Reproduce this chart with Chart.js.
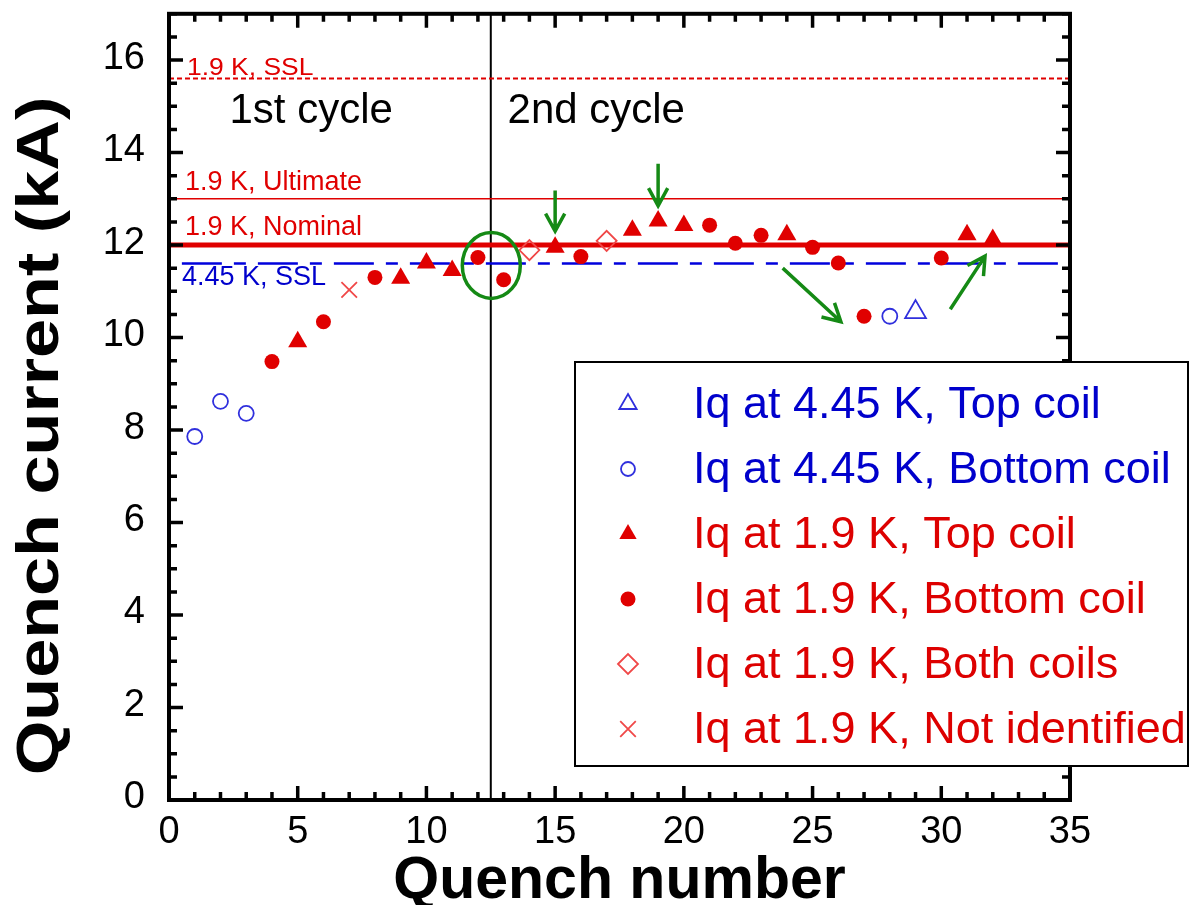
<!DOCTYPE html>
<html>
<head>
<meta charset="utf-8">
<script src="https://cdn.jsdelivr.net/npm/chart.js@4.4.0/dist/chart.umd.min.js"></script>
<style>
  body { margin: 0; background: #fff; }
  canvas { display: block; }
</style>
</head>
<body>
<canvas id="myChart" width="1190" height="905"></canvas>
<script>
var FONT = "'Liberation Sans', Arial, Helvetica, sans-serif";

// quench currents (kA) by quench number, grouped by marker kind
var blueTopX = [29];
var blueTopY = [10.55];
var blueBottomX = [1, 2, 3, 28];
var blueBottomY = [7.86, 8.62, 8.36, 10.46];
var redTopX = [5, 9, 10, 11, 15, 18, 19, 20, 24, 31, 32];
var redTopY = [9.91, 11.28, 11.61, 11.45, 11.95, 12.32, 12.52, 12.42, 12.22, 12.22, 12.12];
var redBottomX = [4, 6, 8, 12, 13, 16, 21, 22, 23, 25, 26, 27, 30];
var redBottomY = [9.48, 10.34, 11.3, 11.73, 11.25, 11.75, 12.43, 12.04, 12.21, 11.95, 11.61, 10.46, 11.72];
var redBothX = [14, 17];
var redBothY = [11.89, 12.09];
var redUnknownX = [7];
var redUnknownY = [11.03];

var seriesNames = [
  'Iq at 4.45 K, Top coil',
  'Iq at 4.45 K, Bottom coil',
  'Iq at 1.9 K, Top coil',
  'Iq at 1.9 K, Bottom coil',
  'Iq at 1.9 K, Both coils',
  'Iq at 1.9 K, Not identified',
];

// reference levels (kA)
var levelNames = ['1.9 K, SSL', '1.9 K, Ultimate', '1.9 K, Nominal', '4.45 K, SSL'];
var levelValues = [15.6, 13.0, 12.0, 11.6];
var cycleSplit = 12.5;
var cycleNames = ['1st cycle', '2nd cycle'];

var xTicks = [0, 5, 10, 15, 20, 25, 30, 35];
var yTicks = [0, 2, 4, 6, 8, 10, 12, 14, 16];
var yTitle = 'Quench current (kA)';

var RED = '#e00000';
var LIGHTRED = '#f04848';
var BLUE = '#3030dd';
var GREEN = '#158a15';

function pts(xs, ys) {
  return xs.map(function (x, i) {
    return { x: x, y: ys[i] };
  });
}

function levelLine(value, color, width, dash, from) {
  return {
    data: [{ x: from, y: value }, { x: 35, y: value }],
    showLine: true,
    borderColor: color,
    borderWidth: width,
    borderDash: dash,
    pointRadius: 0,
    pointHoverRadius: 0,
    order: 5,
  };
}

var markerSets = [
  { label: seriesNames[0], data: pts(blueTopX, blueTopY), pointStyle: 'triangle', pointRadius: 12, borderWidth: 1.8, borderColor: BLUE, backgroundColor: 'rgba(0,0,0,0)', textColor: '#0000cc', legendRadius: 10 },
  { label: seriesNames[1], data: pts(blueBottomX, blueBottomY), pointStyle: 'circle', pointRadius: 7.5, borderWidth: 1.8, borderColor: BLUE, backgroundColor: 'rgba(0,0,0,0)', textColor: '#0000cc', legendRadius: 7 },
  { label: seriesNames[2], data: pts(redTopX, redTopY), pointStyle: 'triangle', pointRadius: 11, borderWidth: 0, borderColor: RED, backgroundColor: RED, textColor: '#dd0000', legendRadius: 10 },
  { label: seriesNames[3], data: pts(redBottomX, redBottomY), pointStyle: 'circle', pointRadius: 7.5, borderWidth: 0, borderColor: RED, backgroundColor: RED, textColor: '#dd0000', legendRadius: 7.5 },
  { label: seriesNames[4], data: pts(redBothX, redBothY), pointStyle: 'rectRot', pointRadius: 10, borderWidth: 1.8, borderColor: LIGHTRED, backgroundColor: 'rgba(0,0,0,0)', textColor: '#dd0000', legendRadius: 10 },
  { label: seriesNames[5], data: pts(redUnknownX, redUnknownY), pointStyle: 'crossRot', pointRadius: 11, borderWidth: 1.8, borderColor: LIGHTRED, backgroundColor: 'rgba(0,0,0,0)', textColor: '#dd0000', legendRadius: 11 },
];

var datasets = markerSets.map(function (m) {
  return {
    label: m.label,
    data: m.data,
    pointStyle: m.pointStyle,
    pointRadius: m.pointRadius,
    pointHoverRadius: m.pointRadius,
    borderWidth: m.borderWidth,
    pointBorderWidth: m.borderWidth,
    borderColor: m.borderColor,
    backgroundColor: m.backgroundColor,
    order: 1,
  };
});
datasets.push(levelLine(levelValues[0], RED, 2, [5, 3], 0));
datasets.push(levelLine(levelValues[1], RED, 1.5, [], 0));
datasets.push(levelLine(levelValues[2], RED, 5, [], 0));
datasets.push(levelLine(levelValues[3], '#0000dd', 2.5, [40, 12, 12, 12], 0.5));
datasets.push({
  data: [{ x: cycleSplit, y: 0 }, { x: cycleSplit, y: 17 }],
  showLine: true,
  borderColor: '#000',
  borderWidth: 2,
  pointRadius: 0,
  order: 6,
});

// green annotations, in data units
var arrows = [
  [15, 13.18, 15, 12.3],
  [19, 13.76, 19, 12.85],
  [23.84, 11.5, 26.1, 10.34],
  [30.35, 10.61, 31.7, 11.76],
];

function drawArrow(ctx, x1, y1, x2, y2) {
  var a = Math.atan2(y2 - y1, x2 - x1);
  var h = 20;
  var s = 0.5;
  ctx.beginPath();
  ctx.moveTo(x1, y1);
  ctx.lineTo(x2, y2);
  ctx.moveTo(x2 - h * Math.cos(a - s), y2 - h * Math.sin(a - s));
  ctx.lineTo(x2, y2);
  ctx.lineTo(x2 - h * Math.cos(a + s), y2 - h * Math.sin(a + s));
  ctx.stroke();
}

var decorPlugin = {
  id: 'decor',
  afterDraw: function (chart) {
    var ctx = chart.ctx;
    var area = chart.chartArea;
    var xs = chart.scales.x;
    var ys = chart.scales.y;
    ctx.save();

    // frame and inward ticks on all four sides
    ctx.strokeStyle = '#000';
    ctx.lineWidth = 4;
    ctx.strokeRect(area.left, area.top, area.right - area.left, area.bottom - area.top);
    ctx.lineWidth = 3.5;
    ctx.beginPath();
    for (var i = 0; i <= 35; i++) {
      var px = xs.getPixelForValue(i);
      var len = i % 5 === 0 ? 14 : 8;
      ctx.moveTo(px, area.bottom);
      ctx.lineTo(px, area.bottom - len);
      ctx.moveTo(px, area.top);
      ctx.lineTo(px, area.top + len);
    }
    for (var v = 0; v <= 17; v += 0.5) {
      var py = ys.getPixelForValue(v);
      var l2 = v % 2 === 0 ? 14 : 8;
      ctx.moveTo(area.left, py);
      ctx.lineTo(area.left + l2, py);
      ctx.moveTo(area.right, py);
      ctx.lineTo(area.right - l2, py);
    }
    ctx.stroke();

    // y axis title, a bit stretched along its length like the original
    ctx.save();
    ctx.fillStyle = '#000';
    ctx.font = 'bold 60px ' + FONT;
    ctx.textAlign = 'center';
    ctx.textBaseline = 'middle';
    ctx.translate(41, 436);
    ctx.rotate(-Math.PI / 2);
    ctx.scale(1.17, 1);
    ctx.fillText(yTitle, 0, 0);
    ctx.restore();

    // level labels
    ctx.textAlign = 'left';
    ctx.textBaseline = 'alphabetic';
    ctx.fillStyle = '#e00000';
    ctx.save();
    ctx.translate(area.left + 18, ys.getPixelForValue(levelValues[0]) - 4);
    ctx.scale(1.15, 1);
    ctx.font = '23px ' + FONT;
    ctx.fillText(levelNames[0], 0, 0);
    ctx.restore();
    ctx.font = '27px ' + FONT;
    ctx.fillText(levelNames[1], area.left + 16, ys.getPixelForValue(levelValues[1]) - 9);
    ctx.fillText(levelNames[2], area.left + 16, ys.getPixelForValue(levelValues[2]) - 10);
    ctx.fillStyle = '#0000cc';
    ctx.fillText(levelNames[3], area.left + 13, ys.getPixelForValue(levelValues[3]) + 21);

    // cycle labels
    ctx.fillStyle = '#000';
    ctx.font = '42px ' + FONT;
    ctx.fillText(cycleNames[0], xs.getPixelForValue(2.35), ys.getPixelForValue(14.63));
    ctx.fillText(cycleNames[1], xs.getPixelForValue(13.15), ys.getPixelForValue(14.63));

    // green marks
    ctx.strokeStyle = GREEN;
    ctx.lineWidth = 3.5;
    ctx.beginPath();
    ctx.ellipse(xs.getPixelForValue(12.52), ys.getPixelForValue(11.56), 29, 33, 0, 0, Math.PI * 2);
    ctx.stroke();
    arrows.forEach(function (a) {
      drawArrow(ctx, xs.getPixelForValue(a[0]), ys.getPixelForValue(a[1]), xs.getPixelForValue(a[2]), ys.getPixelForValue(a[3]));
    });

    // legend box
    var bx = 575, by = 362, bw = 613, bh = 404;
    ctx.fillStyle = '#fff';
    ctx.fillRect(bx, by, bw, bh);
    ctx.strokeStyle = '#000';
    ctx.lineWidth = 2;
    ctx.strokeRect(bx, by, bw, bh);
    ctx.font = '45px ' + FONT;
    ctx.textBaseline = 'middle';
    markerSets.forEach(function (m, k) {
      var ry = by + 42 + k * 65;
      ctx.fillStyle = m.backgroundColor;
      ctx.strokeStyle = m.borderColor;
      ctx.lineWidth = m.borderWidth || 1.5;
      Chart.helpers.drawPoint(ctx, { pointStyle: m.pointStyle, radius: m.legendRadius, rotation: 0, borderWidth: m.borderWidth || 0 }, 628, ry);
      ctx.fillStyle = m.textColor;
      ctx.fillText(m.label, 693, ry + 2);
    });
    ctx.restore();
  },
};

new Chart('myChart', {
  type: 'scatter',
  data: { datasets: datasets },
  options: {
    responsive: false,
    animation: false,
    events: [],
    layout: { padding: { top: 10, right: 120, left: 0, bottom: 0 } },
    plugins: {
      legend: { display: false },
      tooltip: { enabled: false },
    },
    scales: {
      x: {
        type: 'linear',
        min: 0,
        max: 35,
        afterBuildTicks: function (scale) {
          scale.ticks = xTicks.map(function (t) { return { value: t }; });
        },
        afterFit: function (scale) {
          scale.height = 105;
          scale.paddingLeft = 0;
          scale.paddingRight = 0;
        },
        grid: { display: false, drawTicks: false },
        border: { display: false },
        ticks: { color: '#000', padding: 10, maxRotation: 0, font: { family: FONT, size: 38 } },
        title: {
          display: true,
          text: 'Quench number',
          color: '#000',
          padding: 0,
          font: { family: FONT, size: 59, weight: 'bold', lineHeight: 0.8 },
        },
      },
      y: {
        type: 'linear',
        min: 0,
        max: 17,
        afterBuildTicks: function (scale) {
          scale.ticks = yTicks.map(function (t) { return { value: t }; });
        },
        afterFit: function (scale) {
          scale.width = 169;
          scale.paddingTop = 0;
          scale.paddingBottom = 0;
        },
        grid: { display: false, drawTicks: false },
        border: { display: false },
        ticks: { color: '#000', padding: 24, labelOffset: -2, font: { family: FONT, size: 38 } },
        title: { display: false },
      },
    },
  },
  plugins: [decorPlugin],
});
</script>
</body>
</html>
